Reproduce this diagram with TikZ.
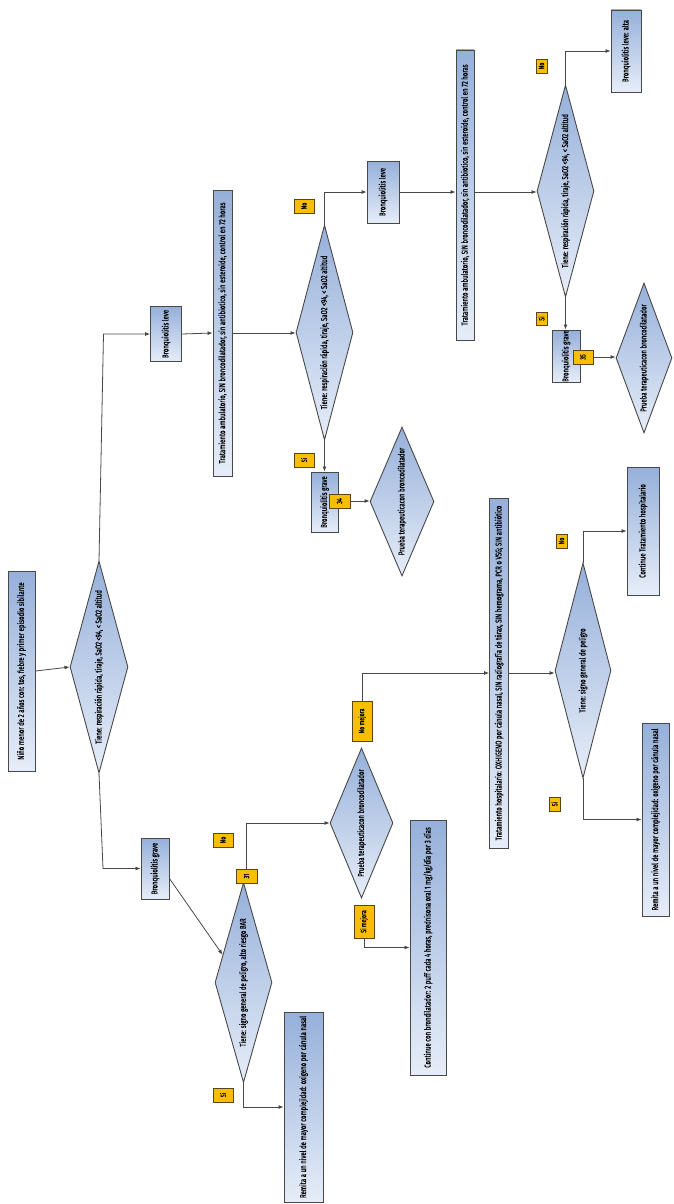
\documentclass[tikz,border=0pt]{standalone}
\usepackage{fontspec}
\setmainfont{Fira Sans}[FakeStretch=0.7,FakeBold=0.6]
\usetikzlibrary{shapes.geometric,arrows.meta,calc}
\definecolor{boxtop}{RGB}{150,176,218}
\definecolor{boxbot}{RGB}{230,237,248}
\definecolor{edgegray}{RGB}{72,72,72}
\definecolor{tagfill}{RGB}{250,190,0}
\definecolor{tagedge}{RGB}{90,70,20}
% text set bottom-to-top, centred on the node
\newcommand{\vtext}[1]{\rotatebox{90}{\makebox[0pt]{#1}}}
\begin{document}
\begin{tikzpicture}[x=1pt,y=-1pt,
  font=\fontsize{8.6}{10}\selectfont,
  box/.style={rectangle, draw=edgegray, line width=0.9pt, top color=boxtop, bottom color=boxbot, inner sep=0pt},
  decision/.style={diamond, draw=edgegray, line width=0.9pt, top color=boxtop, bottom color=boxbot, inner sep=0pt},
  tag/.style={rectangle, draw=tagedge, line width=0.7pt, fill=tagfill, inner sep=0pt, font=\fontsize{7.6}{9}\selectfont},
  arr/.style={draw=edgegray, line width=0.8pt, -{Latex[length=5pt,width=4pt]}},
  ln/.style={draw=edgegray, line width=0.8pt}]
\useasboundingbox (0,0) rectangle (673,1204);

% ---- entry and first decision
\node[box, minimum width=27pt, minimum height=200pt] (start) at (21.5,671) {\vtext{Niño menor de 2 años con: tos, fiebre y primer episodio sibilante}};
\node[decision, minimum width=58pt, minimum height=212pt] (d1) at (99,667) {\vtext{Tiene: respiración rápida, tiraje, SaO2 <94, < SaO2 altitud}};

% ---- mild branch
\node[box, minimum width=31pt, minimum height=55pt] (leve1) at (166,334) {\vtext{Bronquiolitis leve}};
\node[box, minimum width=19pt, minimum height=286pt] (trat1) at (222.5,333) {\vtext{Tratamiento ambulatorio, SIN broncodilatador, sin antibiotico, sin esteroide, control en 72 horas}};
\node[decision, minimum width=57pt, minimum height=215pt] (d2) at (324.5,332.5) {\vtext{Tiene: respiración rápida, tiraje, SaO2 <94, < SaO2 altitud}};
\node[box, minimum width=32pt, minimum height=62pt] (leve2) at (383,192) {\vtext{Bronquiolitis leve}};
\node[box, minimum width=18pt, minimum height=290pt] (trat2) at (465,195) {\vtext{Tratamiento ambulatorio, SIN broncodilatador, sin antibiotico, sin esteroide, control en 72 horas}};
\node[decision, minimum width=57pt, minimum height=212pt] (d4) at (565.5,191) {\vtext{Tiene: respiración rápida, tiraje, SaO2 <94, < SaO2 altitud}};
\node[box, minimum width=30pt, minimum height=82pt] (alta) at (626,51) {\vtext{Bronquiolitis leve: alta}};
\node[box, minimum width=28pt, minimum height=52pt] (grave3) at (566,356) {\vtext{Bronquiolitis grave}};
\node[decision, minimum width=56pt, minimum height=150pt] (d5) at (644,358) {\vtext{Prueba terapeuticacon broncodilatador}};
\node[box, minimum width=27pt, minimum height=60pt] (grave2) at (324.5,502) {\vtext{Bronquiolitis grave}};
\node[decision, minimum width=64pt, minimum height=149pt] (d3) at (402,501.5) {\vtext{Prueba terapeuticacon broncodilatador}};

% ---- severe branch
\node[box, minimum width=28pt, minimum height=61pt] (grave1) at (155,868.5) {\vtext{Bronquiolitis grave}};
\node[decision, minimum width=57pt, minimum height=200pt] (d6) at (243.5,982.5) {\vtext{Tiene: signo general de peligro, alto riesgo BAR}};
\node[box, minimum width=39pt, minimum height=190pt] (remita1) at (303.5,1107) {\vtext{Remita a un nivel de mayor complejidad: oxigeno por cánula nasal}};
\node[decision, minimum width=63pt, minimum height=150pt] (d7) at (361.5,823) {\vtext{Prueba terapeuticacon broncodilatador}};
\node[box, minimum width=36pt, minimum height=255pt] (cont1) at (428,947.5) {\vtext{Continue con brondilatador: 2 puff cada 4 horas, prednisona oral 1 mg/kg/día por 3 días}};
\node[box, minimum width=19pt, minimum height=350pt] (trath) at (499,673) {\vtext{Tratamiento hospitalario: OXHIGENO por cánula nasal, SIN radiografía de tórax, SIN hemograma, PCR o VSG; SIN antibiótico}};
\node[decision, minimum width=56pt, minimum height=215pt] (d8) at (583,670.5) {\vtext{Tiene: signo general de peligro}};
\node[box, minimum width=32pt, minimum height=128pt] (conth) at (643,531) {\vtext{Continue Tratamiento hospitalario}};
\node[box, minimum width=27pt, minimum height=193pt] (remita2) at (655.5,819.5) {\vtext{Remita a un nivel de mayor complejidad: oxigeno por cánula nasal}};

% ---- answer tags
\node[tag, minimum width=20pt, minimum height=14pt] (noA) at (304,206) {\vtext{No}};
\node[tag, minimum width=20pt, minimum height=14pt] (siA) at (304,460) {\vtext{Si}};
\node[tag, minimum width=21pt, minimum height=14pt] (t34) at (339.5,501) {\vtext{34}};
\node[tag, minimum width=11pt, minimum height=14pt] (noB) at (541.5,66) {\vtext{No}};
\node[tag, minimum width=11pt, minimum height=13pt] (siB) at (541.5,318.5) {\vtext{Si}};
\node[tag, minimum width=20pt, minimum height=14pt] (t35) at (583,357) {\vtext{35}};
\node[tag, minimum width=20pt, minimum height=14pt] (noC) at (223,840) {\vtext{No}};
\node[tag, minimum width=21pt, minimum height=14pt] (t31) at (246.5,876) {\vtext{31}};
\node[tag, minimum width=20pt, minimum height=14pt] (siC) at (223,1095) {\vtext{Si}};
\node[tag, minimum width=20pt, minimum height=33pt] (simej) at (364,921.5) {\vtext{Si mejora}};
\node[tag, minimum width=20pt, minimum height=40pt] (nomej) at (362,721) {\vtext{No mejora}};
\node[tag, minimum width=11pt, minimum height=14pt] (noD) at (561.5,541) {\vtext{No}};
\node[tag, minimum width=11pt, minimum height=14pt] (siD) at (554.5,804) {\vtext{Si}};

% ---- bends of the two main branches
\coordinate (bendA) at (103.5,334);
\coordinate (bendB) at (103,868.5);

% ---- connectors
\draw[arr] (start.east) -- (d1.west);
\draw[arr] (d1.north) -- (bendA) -- (leve1.west);
\draw[arr] (leve1.east) -- (trat1.west);
\draw[arr] (trat1.east) -- (trat1.east -| d2.west);
\draw[arr] (d2.north) |- (leve2.west);
\draw[arr] (d2.south) -- (grave2.north);
\draw[arr] (t34.east) -- (t34.east -| d3.west);
\draw[arr] (leve2.east) -- (leve2.east -| trat2.west);
\draw[arr] (leve2.east -| trat2.east) -- (leve2.east -| d4.west);
\draw[arr] (d4.north) |- (alta.west);
\draw[arr] (d4.south) -- (d4.south |- grave3.north);
\draw[arr] (t35.east) -- (t35.east -| d5.west);
\draw[arr] (d1.south) -- (bendB) -- (grave1.west);
\draw[arr] ($(grave1.east)+(0,10)$) -- (d6.127);
\draw[arr] (t31.north) |- (d7.west);
\draw[arr] (d6.south) |- (remita1.west);
\draw[arr] (simej.south) |- (cont1.west);
\draw[arr] (nomej.north) |- (nomej.north |- trath.west) -- (trath.west);
\draw[arr] (trath.east) -- (trath.east -| d8.west);
\draw[arr] (d8.north) |- (conth.west);
\draw[arr] (d8.south) |- (remita2.west);
\end{tikzpicture}
\end{document}
